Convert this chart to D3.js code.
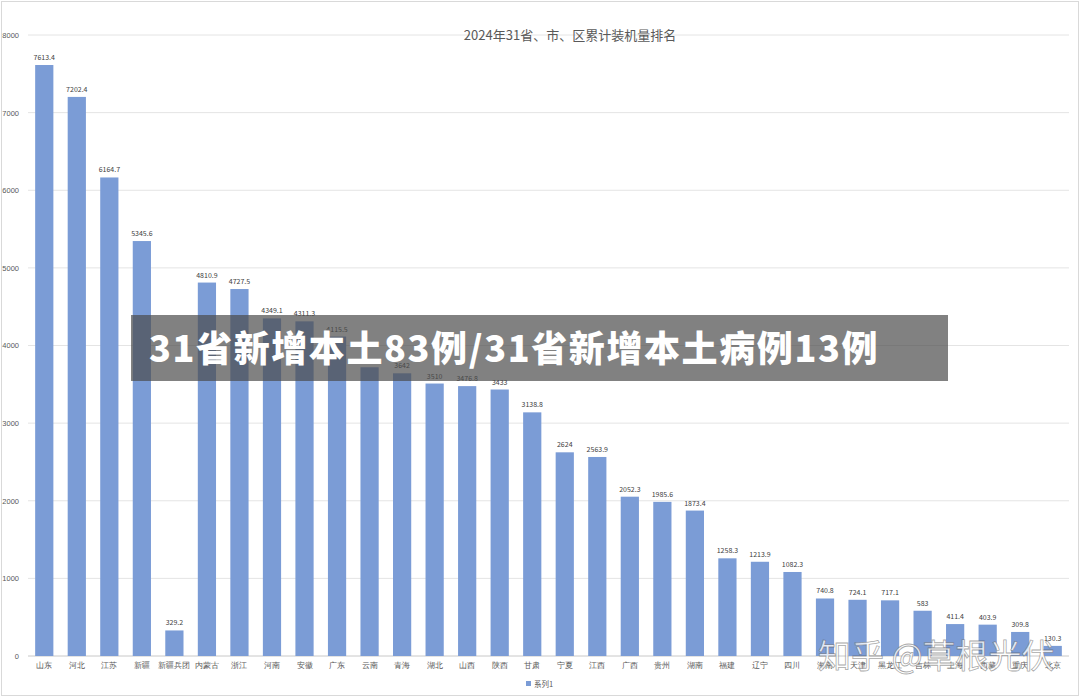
<!DOCTYPE html>
<html><head><meta charset="utf-8">
<script src="https://cdn.jsdelivr.net/npm/d3@7"></script>
<style>body{margin:0;background:#fff;font-family:"Noto Sans CJK SC",sans-serif}</style>
</head><body><svg id="c" width="1080" height="697"></svg>
<script>
const categories=["山东","河北","江苏","新疆","新疆兵团","内蒙古","浙江","河南","安徽","广东","云南","青海","湖北","山西","陕西","甘肃","宁夏","江西","广西","贵州","湖南","福建","辽宁","四川","海南","天津","黑龙江","吉林","上海","西藏","重庆","北京"];
const values=[7613.4,7202.4,6164.7,5345.6,329.2,4810.9,4727.5,4349.1,4311.3,4115.5,3720,3642,3510,3476.8,3433,3138.8,2624,2563.9,2052.3,1985.6,1873.4,1258.3,1213.9,1082.3,740.8,724.1,717.1,583,411.4,403.9,309.8,130.3];
const labels=["7613.4","7202.4","6164.7","5345.6","329.2","4810.9","4727.5","4349.1","4311.3","4115.5","","3642","3510","3476.8","3433","3138.8","2624","2563.9","2052.3","1985.6","1873.4","1258.3","1213.9","1082.3","740.8","724.1","717.1","583","411.4","403.9","309.8","130.3"];
const yTicks=[0,1000,2000,3000,4000,5000,6000,7000,8000];
const svg=d3.select("#c");
svg.append("rect").attr("x",1.5).attr("y",1.5).attr("width",1077).attr("height",694).attr("fill","#fff").attr("stroke","#d9d9d9");
const x=d3.scaleBand().domain(categories).range([28,1069]).paddingInner(0.44).paddingOuter(0.22);
const y=d3.scaleLinear().domain([0,8000]).range([656,35]);
const g=svg.append("g");
yTicks.forEach(t=>{
 g.append("line").attr("x1",28).attr("x2",1069).attr("y1",y(t)).attr("y2",y(t)).attr("stroke",t?"#e4e4e4":"#c8c8c8");
});
const ya=svg.append("g").attr("transform","translate(22,0)").call(d3.axisLeft(y).tickValues(yTicks).tickSize(0).tickFormat(d3.format("d")));
ya.select(".domain").remove();
ya.selectAll("text").attr("fill","#595959").attr("font-size",7.5);
const xa=svg.append("g").attr("transform","translate(0,660)").call(d3.axisBottom(x).tickSize(0));
xa.select(".domain").remove();
xa.selectAll("text").attr("fill","#595959").attr("font-size",7.5);
svg.selectAll(".bar").data(values).join("rect").attr("x",(d,i)=>x(categories[i])).attr("width",x.bandwidth())
 .attr("y",d=>y(d)).attr("height",d=>y(0)-y(d)).attr("fill","#7b9cd6");
svg.selectAll(".lbl").data(labels).join("text").attr("x",(d,i)=>x(categories[i])+x.bandwidth()/2).attr("y",(d,i)=>y(values[i])-5)
 .attr("text-anchor","middle").attr("font-size",7).attr("fill","#404040").text(d=>d);
svg.append("text").attr("x",570).attr("y",40).attr("text-anchor","middle").attr("font-size",13).attr("fill","#595959").text("2024年31省、市、区累计装机量排名");
svg.append("rect").attr("x",526).attr("y",681).attr("width",5).attr("height",5).attr("fill","#7b9cd6");
svg.append("text").attr("x",534).attr("y",687).attr("font-size",7.5).attr("fill","#595959").text("系列1");
svg.append("rect").attr("x",131).attr("y",315).attr("width",817).attr("height",66).attr("fill","rgba(75,75,75,0.7)");
svg.append("text").attr("x",149).attr("y",362).attr("font-size",36).attr("font-weight","900").attr("letter-spacing",1.6).attr("fill","#fff").text("31省新增本土83例/31省新增本土病例13例");
svg.append("text").attr("x",818).attr("y",668).attr("font-size",33).attr("fill","rgba(255,255,255,0.8)").attr("stroke","rgba(80,80,80,0.5)").attr("stroke-width",0.8).text("知乎 @草根光伏");
</script></body></html>
